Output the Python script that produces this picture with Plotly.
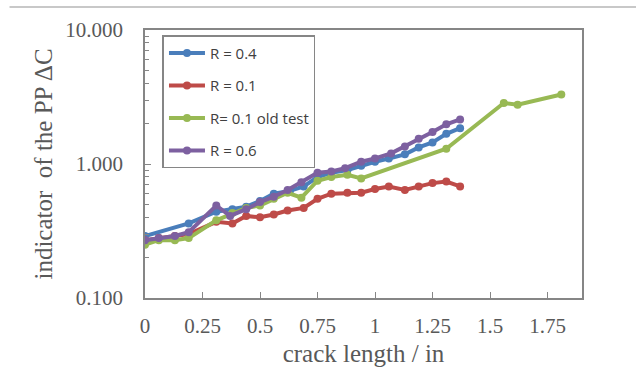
import plotly.graph_objects as go

x_r04 = [0, 0.19, 0.31, 0.38, 0.44, 0.5, 0.56, 0.63, 0.69, 0.75, 0.81, 0.88, 0.94, 1.0, 1.06, 1.13, 1.19, 1.25, 1.31, 1.37]
y_r04 = [0.29, 0.36, 0.44, 0.46, 0.48, 0.53, 0.6, 0.63, 0.68, 0.8, 0.86, 0.9, 0.97, 1.04, 1.1, 1.18, 1.33, 1.45, 1.68, 1.85]

x_r01 = [0, 0.06, 0.13, 0.19, 0.31, 0.38, 0.44, 0.5, 0.56, 0.62, 0.69, 0.75, 0.81, 0.88, 0.94, 1.0, 1.06, 1.13, 1.19, 1.25, 1.31, 1.37]
y_r01 = [0.27, 0.28, 0.29, 0.3, 0.37, 0.36, 0.41, 0.4, 0.42, 0.45, 0.47, 0.55, 0.6, 0.61, 0.61, 0.65, 0.68, 0.64, 0.68, 0.72, 0.74, 0.68]

x_old = [0, 0.06, 0.13, 0.19, 0.31, 0.38, 0.44, 0.5, 0.56, 0.62, 0.68, 0.75, 0.81, 0.88, 0.94, 1.31, 1.56, 1.62, 1.81]
y_old = [0.25, 0.27, 0.27, 0.28, 0.38, 0.43, 0.47, 0.49, 0.55, 0.61, 0.56, 0.75, 0.8, 0.83, 0.78, 1.3, 2.85, 2.77, 3.3]

x_r06 = [0, 0.06, 0.13, 0.19, 0.31, 0.37, 0.44, 0.5, 0.56, 0.62, 0.68, 0.75, 0.81, 0.87, 0.94, 1.0, 1.07, 1.13, 1.19, 1.25, 1.31, 1.37]
y_r06 = [0.27, 0.28, 0.29, 0.31, 0.49, 0.41, 0.46, 0.52, 0.57, 0.64, 0.73, 0.86, 0.88, 0.93, 1.04, 1.1, 1.2, 1.35, 1.54, 1.73, 1.98, 2.15]

series = [
    ("R = 0.4", x_r04, y_r04, "#4A7EBB"),
    ("R = 0.1", x_r01, y_r01, "#BE4B48"),
    ("R= 0.1 old test", x_old, y_old, "#98B954"),
    ("R = 0.6", x_r06, y_r06, "#7D60A0"),
]

x_ticks = [0, 0.25, 0.5, 0.75, 1, 1.25, 1.5, 1.75]
x_ticktext = ["0", "0.25", "0.5", "0.75", "1", "1.25", "1.5", "1.75"]
y_ticks = [0.1, 1, 10]
y_ticktext = ["0.100", "1.000", "10.000"]
y_minor = [0.2, 0.3, 0.4, 0.5, 0.6, 0.7, 0.8, 0.9, 2, 3, 4, 5, 6, 7, 8, 9]

fig = go.Figure()
for i, (name, xs, ys, col) in enumerate(series):
    fig.add_trace(go.Scatter(
        x=xs, y=ys, name=name, mode="lines+markers", legendgroup=f"g{i}",
        line=dict(color=col, width=4),
        marker=dict(color=col, size=8),
    ))

axis_font = dict(family="Liberation Serif", size=21, color="#595959")
title_font = dict(family="Liberation Serif", size=25, color="#595959")
fig.update_layout(
    width=636, height=377,
    margin=dict(l=145, r=54, t=30, b=79),
    paper_bgcolor="white", plot_bgcolor="white",
    showlegend=True,
    legend=dict(
        x=0.04, y=0.98, xanchor="left", yanchor="top",
        bgcolor="white", bordercolor="#868686", borderwidth=1.5,
        font=dict(family="Open Sans", size=15, color="#404040"),
        tracegroupgap=10, itemwidth=36,
    ),
    xaxis=dict(
        range=[0, 1.9], tickvals=x_ticks, ticktext=x_ticktext,
        ticks="inside", ticklen=6, tickcolor="#868686",
        showline=True, linecolor="#868686", linewidth=1.5, mirror=True,
        showgrid=False, zeroline=False,
        tickfont=axis_font, ticklabelstandoff=8,
        title=dict(text="crack length / in", font=title_font, standoff=8),
    ),
    yaxis=dict(
        type="log", range=[-1, 1], tickvals=y_ticks, ticktext=y_ticktext,
        ticks="inside", ticklen=6, tickcolor="#868686",
        minor=dict(tickvals=y_minor, ticks="inside", ticklen=4, tickcolor="#868686"),
        showline=True, linecolor="#868686", linewidth=1.5, mirror=True,
        showgrid=False, zeroline=False,
        tickfont=axis_font, ticklabelstandoff=16,
        title=dict(text="indicator  of the PP ΔC", font=title_font, standoff=6),
    ),
    shapes=[dict(type="line", xref="paper", yref="paper",
                 x0=-0.31, x1=1.15, y0=1.086, y1=1.086,
                 line=dict(color="#C8C8C8", width=2))],
)

fig.write_html("out.html")
